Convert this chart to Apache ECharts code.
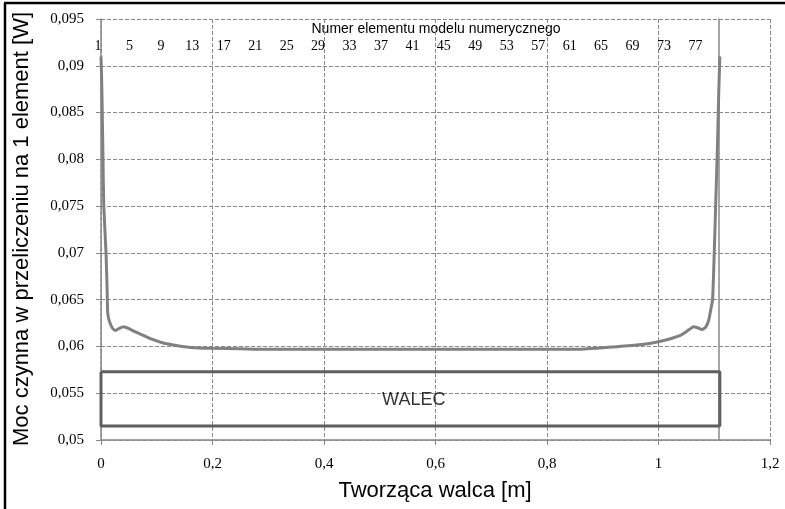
<!DOCTYPE html>
<html>
<head>
<meta charset="utf-8">
<script src="https://cdn.jsdelivr.net/npm/echarts@6/dist/echarts.min.js"></script>
<style>html,body{margin:0;padding:0;background:#fff}#c{width:785px;height:509px}</style>
</head>
<body>
<div id="c"></div>
<script>
// Position along the cylinder [m]
const xPos = [0, 0.001, 0.002, 0.0036, 0.005, 0.009, 0.011, 0.012, 0.015, 0.02, 0.026, 0.032, 0.04, 0.05, 0.06, 0.075, 0.09, 0.11, 0.135, 0.16, 0.2, 0.25, 0.3, 0.4, 0.5, 0.6, 0.7, 0.8, 0.86, 0.93, 0.97, 1.0, 1.02, 1.04, 1.055, 1.063, 1.07, 1.078, 1.085, 1.09, 1.094, 1.097, 1.1, 1.103, 1.106, 1.108, 1.11];
// Active power per element [W]
const power = [0.0910, 0.0890, 0.0860, 0.0800, 0.0750, 0.0700, 0.0660, 0.0636, 0.0627, 0.0620, 0.0617, 0.0619, 0.0621, 0.0619, 0.0616, 0.0612, 0.0608, 0.0604, 0.0601, 0.0599, 0.0598, 0.05975, 0.0597, 0.0597, 0.0597, 0.0597, 0.0597, 0.0597, 0.0597, 0.0600, 0.0602, 0.0605, 0.0608, 0.0612, 0.0618, 0.0621, 0.0620, 0.0618, 0.0621, 0.0628, 0.0640, 0.0650, 0.0700, 0.0760, 0.0820, 0.0870, 0.0910];
// Element numbers on the top axis
const elementNumbers = Array.from({length: 80}, (_, i) => String(i + 1));
// Cylinder ("WALEC") outline
const rectX = [0, 1.11, 1.11, 0, 0];
const rectY = [0.0573, 0.0573, 0.0515, 0.0515, 0.0573];
const labelPos = [0.561, 0.0543];
const labelText = 'WALEC';
// Axis ticks
const yTicks = [0.05, 0.055, 0.06, 0.065, 0.07, 0.075, 0.08, 0.085, 0.09, 0.095];
const xTicks = [0, 0.2, 0.4, 0.6, 0.8, 1, 1.2];

const grey = '#888888';
const serif = '"Liberation Serif", "Times New Roman", serif';
const sans = '"Liberation Sans", Arial, sans-serif';
const fmt = v => String(parseFloat(v.toFixed(3))).replace('.', ',');

const chart = echarts.init(document.getElementById('c'), null, {renderer: 'canvas'});
chart.setOption({
  animation: false,
  backgroundColor: '#fff',
  grid: [
    {left: 101, right: 15, top: 19, bottom: 69},
    {left: 98, right: 66, top: 19, bottom: 69}
  ],
  xAxis: [
    {
      type: 'value', gridIndex: 0, min: xTicks[0], max: xTicks[xTicks.length - 1], interval: 0.2,
      axisLine: {show: true, lineStyle: {color: grey, width: 1.5}},
      axisTick: {show: true, length: 5, lineStyle: {color: grey}},
      axisLabel: {color: '#000', fontFamily: serif, fontSize: 15, margin: 17, formatter: fmt},
      splitLine: {show: true, lineStyle: {color: grey, type: [4, 2], width: 1}}
    },
    {
      type: 'category', gridIndex: 1, position: 'top', data: elementNumbers, boundaryGap: false,
      axisLine: {show: false}, axisTick: {show: false}, splitLine: {show: false},
      axisLabel: {inside: true, interval: 3, color: '#000', fontFamily: serif, fontSize: 14, margin: 20}
    }
  ],
  yAxis: [
    {
      type: 'value', gridIndex: 0, min: yTicks[0], max: yTicks[yTicks.length - 1], interval: 0.005,
      axisLine: {show: true, lineStyle: {color: grey, width: 1.5}},
      axisTick: {show: true, length: 5, lineStyle: {color: grey}},
      axisLabel: {color: '#000', fontFamily: serif, fontSize: 15, margin: 17, formatter: fmt},
      splitLine: {show: true, lineStyle: {color: grey, type: [4, 2], width: 1}}
    },
    {
      type: 'value', gridIndex: 1, position: 'right', min: 0, max: 1,
      axisLine: {show: true, lineStyle: {color: grey, width: 1.5}},
      axisTick: {show: false}, axisLabel: {show: false}, splitLine: {show: false}
    }
  ],
  series: [
    {
      type: 'line', xAxisIndex: 0, yAxisIndex: 0,
      data: rectX.map((x, i) => [x, rectY[i]]),
      showSymbol: false, symbol: 'none',
      lineStyle: {color: '#5f5f5f', width: 3}, z: 3
    },
    {
      type: 'line', xAxisIndex: 0, yAxisIndex: 0,
      data: xPos.map((x, i) => [x, power[i]]),
      showSymbol: false, symbol: 'none', smooth: 0.2,
      lineStyle: {color: '#808080', width: 3}, z: 4
    },
    {
      type: 'scatter', xAxisIndex: 0, yAxisIndex: 0,
      data: [labelPos], symbolSize: 0,
      label: {show: true, position: 'inside', formatter: labelText, color: '#000', fontFamily: sans, fontSize: 18},
      z: 5
    }
  ],
  graphic: [
    {type: 'line', shape: {x1: 5, y1: 3, x2: 5, y2: 520}, style: {stroke: '#000', lineWidth: 2.5}, z: 100},
    {type: 'line', shape: {x1: 4, y1: 3, x2: 800, y2: 3}, style: {stroke: '#000', lineWidth: 2.5}, z: 100},
    {type: 'text', x: 436, y: 29, style: {text: 'Numer elementu modelu numerycznego', font: '14px ' + sans, fill: '#000', textAlign: 'center', textVerticalAlign: 'middle'}},
    {type: 'text', x: 435, y: 491, style: {text: 'Tworząca walca [m]', font: '22px ' + sans, fill: '#000', textAlign: 'center', textVerticalAlign: 'middle'}},
    {type: 'text', x: 22, y: 229, rotation: Math.PI / 2, style: {text: 'Moc czynna w przeliczeniu na 1 element [W]', font: '22px ' + sans, fill: '#000', textAlign: 'center', textVerticalAlign: 'middle'}}
  ]
});
</script>
</body>
</html>
